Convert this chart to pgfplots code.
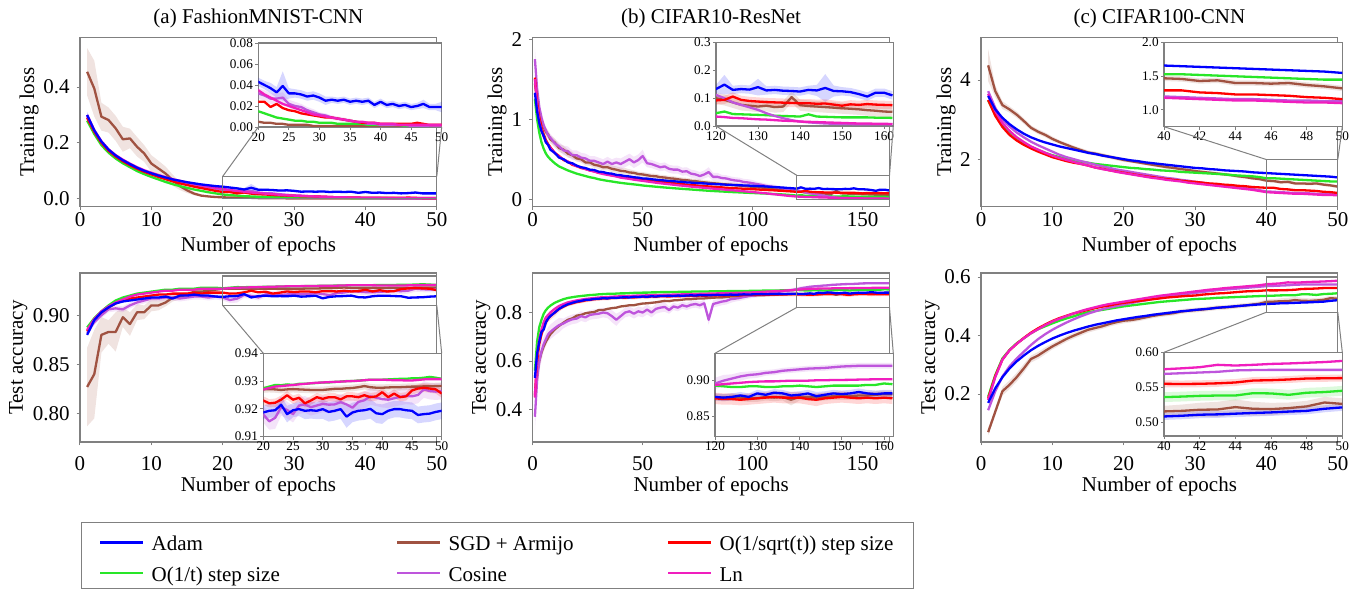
\documentclass[border=0pt]{standalone}
\usepackage{fontspec}
\setmainfont{Liberation Serif}
\usepackage{pgfplots}
\usepackage{pgfplotstable}
\pgfplotsset{compat=1.18}

\definecolor{cA}{RGB}{0,0,255}
\definecolor{cS}{RGB}{160,82,65}
\definecolor{cR}{RGB}{255,0,0}
\definecolor{cG}{RGB}{40,230,40}
\definecolor{cC}{RGB}{190,85,220}
\definecolor{cL}{RGB}{240,30,190}
\definecolor{framegray}{RGB}{128,128,128}

\newcommand\fmain{\fontsize{10.5pt}{12pt}\selectfont}
\newcommand\fins{\fontsize{6.6pt}{8pt}\selectfont}

\pgfplotsset{
  scaled ticks=false,
  every axis title/.style={at={(axis description cs:0.5,1)}, anchor=base, yshift=6.95pt, font=\fmain},
  mainax/.style={scale only axis, width=178.4pt, height=84.5pt, anchor=south west,
    axis line style={draw=framegray, line width=0.6pt},
    tick style={draw=framegray, line width=0.5pt}, tick align=outside, tick pos=left,
    major tick length=1.7pt,
    ticklabel style={font=\fmain}, label style={font=\fmain},
    xlabel style={inner sep=0pt},
    /pgf/number format/assume math mode=true},
  toprow/.style={xticklabel style={inner sep=1pt, yshift=-0.25pt},
    xlabel style={at={(axis description cs:0.5,-0.2367)}, anchor=center}},
  botrow/.style={xticklabel style={inner sep=1pt, yshift=-4.25pt},
    xlabel style={at={(axis description cs:0.5,-0.2633)}, anchor=center}},
  insax/.style={scale only axis, anchor=south west,
    axis line style={draw=framegray, line width=0.6pt},
    tick style={draw=framegray, line width=0.4pt}, tick align=outside, tick pos=left,
    major tick length=1.5pt,
    ticklabel style={font=\fins, inner sep=1pt},
    axis background/.style={fill=white},
    /pgf/number format/assume math mode=true},
  dl/.style={line width=1.15pt, line join=round},
}

% band = mean +- err, drawn as a stacked area, then the stack is brought back to zero
\newcommand\band[4]{%
  \addplot[draw=none, forget plot, stack plots=y] table[x=x, y expr=\thisrow{#2}-\thisrow{#3}]{#1};
  \addplot[draw=none, fill=#4, fill opacity=0.16, forget plot, stack plots=y] table[x=x, y expr=2*\thisrow{#3}]{#1} \closedcycle;
  \addplot[draw=none, forget plot, stack plots=y] table[x=x, y expr=-\thisrow{#2}-\thisrow{#3}]{#1};
}
\newcommand\drawlines[1]{%
  \addplot[cS, dl] table[x=x, y=s]{#1};
  \addplot[cG, dl] table[x=x, y=g]{#1};
  \addplot[cC, dl] table[x=x, y=c]{#1};
  \addplot[cR, dl] table[x=x, y=r]{#1};
  \addplot[cL, dl] table[x=x, y=l]{#1};
  \addplot[cA, dl] table[x=x, y=a]{#1};
}

% (a) FashionMNIST training loss
\pgfplotstableread{
x a s r g c l ae se ce
1 0.300 0.455 0.290 0.280 0.295 0.300 0.012 0.085 0.008
2 0.245 0.395 0.240 0.232 0.242 0.246 0.008 0.100 0.006
3 0.205 0.294 0.200 0.192 0.203 0.206 0.006 0.050 0.005
4 0.176 0.282 0.172 0.165 0.174 0.177 0.005 0.045 0.005
5 0.155 0.252 0.151 0.144 0.153 0.156 0.005 0.045 0.004
6 0.138 0.213 0.134 0.127 0.137 0.140 0.004 0.045 0.004
7 0.124 0.216 0.120 0.113 0.123 0.126 0.004 0.035 0.004
8 0.111 0.186 0.107 0.099 0.110 0.113 0.004 0.035 0.004
9 0.100 0.162 0.096 0.088 0.099 0.102 0.004 0.030 0.004
10 0.091 0.126 0.087 0.078 0.090 0.093 0.004 0.030 0.004
11 0.083 0.108 0.078 0.069 0.082 0.085 0.004 0.028 0.004
12 0.076 0.090 0.070 0.060 0.074 0.077 0.004 0.025 0.004
13 0.069 0.066 0.062 0.052 0.066 0.070 0.004 0.020 0.004
14 0.064 0.045 0.055 0.045 0.060 0.064 0.004 0.014 0.004
15 0.059 0.030 0.049 0.039 0.054 0.058 0.004 0.010 0.004
16 0.055 0.018 0.043 0.033 0.049 0.053 0.004 0.006 0.004
17 0.051 0.011 0.038 0.028 0.044 0.048 0.004 0.004 0.004
18 0.048 0.008 0.033 0.023 0.040 0.043 0.004 0.002 0.004
19 0.045 0.006 0.028 0.019 0.036 0.039 0.004 0.002 0.004
20 0.043 0.005 0.024 0.015 0.032 0.035 0.004 0.001 0.005
21 0.040 0.004 0.024 0.013 0.030 0.031 0.004 0.001 0.005
22 0.037 0.004 0.019 0.011 0.027 0.028 0.005 0.001 0.005
23 0.033 0.003 0.022 0.009 0.027 0.025 0.005 0.001 0.005
24 0.039 0.003 0.018 0.008 0.028 0.022 0.014 0.001 0.005
25 0.032 0.002 0.016 0.007 0.022 0.020 0.005 0.001 0.004
26 0.032 0.002 0.015 0.006 0.020 0.018 0.004 0.001 0.004
27 0.031 0.002 0.013 0.006 0.019 0.016 0.004 0.001 0.003
28 0.029 0.002 0.012 0.005 0.016 0.014 0.004 0.001 0.003
29 0.030 0.001 0.011 0.005 0.014 0.012 0.004 0.001 0.003
30 0.028 0.001 0.010 0.004 0.012 0.011 0.004 0.001 0.002
31 0.025 0.001 0.009 0.004 0.011 0.010 0.004 0.001 0.002
32 0.026 0.001 0.009 0.004 0.009 0.009 0.003 0.001 0.002
33 0.025 0.001 0.008 0.003 0.008 0.008 0.003 0.001 0.002
34 0.026 0.001 0.007 0.003 0.007 0.007 0.003 0.001 0.002
35 0.024 0.001 0.006 0.003 0.006 0.006 0.003 0.001 0.002
36 0.025 0.001 0.005 0.003 0.005 0.005 0.003 0.001 0.001
37 0.024 0.001 0.004 0.003 0.004 0.005 0.003 0.001 0.001
38 0.025 0.001 0.004 0.002 0.003 0.004 0.003 0.001 0.001
39 0.021 0.001 0.004 0.002 0.003 0.004 0.003 0.001 0.001
40 0.024 0.001 0.003 0.002 0.002 0.003 0.003 0.001 0.001
41 0.021 0.001 0.003 0.002 0.002 0.003 0.003 0.001 0.001
42 0.022 0.001 0.003 0.002 0.002 0.003 0.003 0.001 0.001
43 0.020 0.001 0.003 0.002 0.002 0.002 0.003 0.001 0.001
44 0.021 0.001 0.003 0.001 0.002 0.002 0.003 0.001 0.001
45 0.019 0.001 0.003 0.001 0.001 0.002 0.003 0.001 0.001
46 0.020 0.001 0.004 0.001 0.001 0.002 0.003 0.001 0.001
47 0.022 0.001 0.003 0.001 0.001 0.002 0.004 0.001 0.001
48 0.019 0.001 0.002 0.001 0.001 0.002 0.003 0.001 0.001
49 0.019 0.001 0.002 0.001 0.001 0.002 0.003 0.001 0.001
50 0.019 0.001 0.002 0.001 0.001 0.002 0.005 0.001 0.001
}\tAtop

% (a) FashionMNIST test accuracy
\pgfplotstableread{
x a s r g c l ae se re ce
1 0.880 0.827 0.884 0.8875 0.882 0.885 0.003 0.040 0.002 0.003
2 0.895 0.840 0.896 0.897 0.893 0.896 0.003 0.045 0.002 0.003
3 0.903 0.880 0.903 0.904 0.900 0.904 0.003 0.018 0.002 0.003
4 0.908 0.883 0.908 0.910 0.906 0.909 0.003 0.012 0.002 0.003
5 0.912 0.883 0.912 0.915 0.907 0.913 0.003 0.020 0.002 0.003
6 0.914 0.898 0.915 0.918 0.906 0.916 0.003 0.010 0.002 0.003
7 0.915 0.891 0.917 0.920 0.910 0.919 0.003 0.012 0.002 0.003
8 0.916 0.903 0.918 0.922 0.913 0.921 0.003 0.008 0.002 0.003
9 0.917 0.903 0.919 0.923 0.915 0.922 0.003 0.007 0.002 0.003
10 0.918 0.910 0.920 0.924 0.917 0.923 0.003 0.006 0.002 0.003
11 0.918 0.910 0.921 0.925 0.917 0.924 0.003 0.005 0.002 0.003
12 0.919 0.913 0.921 0.926 0.918 0.925 0.003 0.004 0.002 0.003
13 0.917 0.918 0.922 0.926 0.918 0.925 0.003 0.004 0.002 0.003
14 0.920 0.919 0.922 0.927 0.917 0.926 0.003 0.003 0.002 0.003
15 0.920 0.921 0.922 0.927 0.918 0.926 0.003 0.003 0.002 0.003
16 0.921 0.924 0.923 0.927 0.919 0.926 0.003 0.002 0.002 0.003
17 0.920 0.924 0.922 0.928 0.919 0.927 0.003 0.002 0.002 0.003
18 0.920 0.925 0.923 0.928 0.918 0.927 0.003 0.002 0.002 0.003
19 0.919 0.926 0.923 0.928 0.919 0.927 0.003 0.002 0.002 0.003
20 0.9187 0.9270 0.9230 0.9274 0.9180 0.9270 0.0025 0.0012 0.0015 0.003
21 0.9193 0.9271 0.9220 0.9280 0.9155 0.9275 0.0025 0.0012 0.0015 0.003
22 0.9195 0.9270 0.9222 0.9286 0.9168 0.9280 0.0025 0.0012 0.0015 0.004
23 0.9215 0.9268 0.9233 0.9285 0.9206 0.9282 0.0030 0.0012 0.0015 0.003
24 0.9181 0.9270 0.9249 0.9288 0.9196 0.9284 0.0030 0.0012 0.0015 0.003
25 0.9195 0.9271 0.9233 0.9286 0.9181 0.9286 0.0025 0.0012 0.0015 0.003
26 0.9199 0.9270 0.9240 0.9290 0.9212 0.9288 0.0025 0.0012 0.0015 0.003
27 0.9193 0.9269 0.9220 0.9290 0.9216 0.9290 0.0030 0.0012 0.0015 0.003
28 0.9195 0.9268 0.9230 0.9292 0.9206 0.9292 0.0030 0.0012 0.0015 0.003
29 0.9193 0.9268 0.9242 0.9293 0.9212 0.9294 0.0030 0.0012 0.0015 0.003
30 0.9199 0.9268 0.9236 0.9295 0.9218 0.9295 0.0035 0.0012 0.0015 0.003
31 0.9189 0.9270 0.9242 0.9295 0.9215 0.9296 0.0035 0.0012 0.0015 0.003
32 0.9193 0.9272 0.9242 0.9297 0.9216 0.9297 0.0035 0.0012 0.0015 0.003
33 0.9199 0.9272 0.9234 0.9298 0.9224 0.9298 0.0035 0.0012 0.0015 0.003
34 0.9172 0.9274 0.9245 0.9300 0.9216 0.9299 0.0040 0.0012 0.0015 0.003
35 0.9187 0.9275 0.9245 0.9300 0.9204 0.9300 0.0035 0.0012 0.0015 0.003
36 0.9193 0.9278 0.9242 0.9302 0.9225 0.9301 0.0035 0.0012 0.0015 0.003
37 0.9195 0.9282 0.9249 0.9303 0.9231 0.9303 0.0035 0.0012 0.0015 0.003
38 0.9200 0.9278 0.9242 0.9305 0.9245 0.9305 0.0035 0.0012 0.0015 0.003
39 0.9184 0.9276 0.9245 0.9305 0.9240 0.9305 0.0035 0.0012 0.0015 0.003
40 0.9181 0.9276 0.9260 0.9305 0.9235 0.9305 0.0035 0.0012 0.0015 0.003
41 0.9193 0.9277 0.9242 0.9306 0.9233 0.9304 0.0030 0.0012 0.0015 0.003
42 0.9199 0.9278 0.9255 0.9307 0.9238 0.9303 0.0030 0.0012 0.0015 0.003
43 0.9199 0.9278 0.9242 0.9308 0.9243 0.9303 0.0030 0.0012 0.0015 0.003
44 0.9195 0.9279 0.9245 0.9308 0.9247 0.9302 0.0030 0.0012 0.0015 0.003
45 0.9193 0.9280 0.9266 0.9310 0.9245 0.9302 0.0030 0.0012 0.0015 0.003
46 0.9178 0.9280 0.9273 0.9310 0.9250 0.9304 0.0030 0.0012 0.0015 0.003
47 0.9181 0.9281 0.9276 0.9312 0.9270 0.9306 0.0030 0.0012 0.0015 0.003
48 0.9183 0.9281 0.9273 0.9315 0.9264 0.9307 0.0030 0.0012 0.0015 0.003
49 0.9189 0.9282 0.9270 0.9312 0.9262 0.9307 0.0030 0.0012 0.0015 0.003
50 0.9193 0.9282 0.9255 0.9308 0.9264 0.9307 0.0030 0.0012 0.0015 0.003
}\tAbot

% (b) CIFAR10 training loss
\pgfplotstableread{
x a s r g c l ae se ce re
1 1.33 1.45 1.52 1.25 1.75 1.50 0.05 0.06 0.15 0.05
2 1.10 1.23 1.22 1.00 1.38 1.17 0.04 0.06 0.10 0.04
3 0.95 1.08 1.02 0.83 1.15 0.97 0.03 0.05 0.08 0.03
4 0.85 0.98 0.90 0.71 1.02 0.86 0.03 0.05 0.06 0.03
5 0.79 0.91 0.81 0.63 0.92 0.78 0.03 0.05 0.06 0.03
6 0.71 0.84 0.74 0.57 0.86 0.72 0.03 0.05 0.05 0.03
7 0.68 0.81 0.69 0.53 0.80 0.68 0.03 0.05 0.05 0.02
8 0.62 0.75 0.65 0.50 0.77 0.64 0.02 0.05 0.05 0.02
10 0.58 0.71 0.58 0.45 0.70 0.58 0.02 0.05 0.05 0.02
12 0.52 0.64 0.54 0.41 0.66 0.53 0.02 0.05 0.05 0.02
14 0.50 0.62 0.49 0.385 0.61 0.50 0.02 0.05 0.06 0.02
16 0.46 0.57 0.47 0.36 0.60 0.47 0.02 0.05 0.06 0.02
18 0.45 0.55 0.43 0.34 0.55 0.44 0.02 0.04 0.06 0.02
20 0.42 0.51 0.415 0.32 0.55 0.41 0.02 0.04 0.06 0.02
22 0.40 0.50 0.39 0.305 0.52 0.40 0.02 0.04 0.06 0.02
24 0.39 0.46 0.38 0.29 0.51 0.375 0.02 0.04 0.06 0.02
26 0.37 0.46 0.36 0.275 0.48 0.36 0.02 0.04 0.06 0.02
28 0.365 0.43 0.35 0.265 0.48 0.345 0.02 0.04 0.06 0.02
30 0.345 0.42 0.33 0.25 0.46 0.33 0.02 0.04 0.06 0.02
32 0.34 0.40 0.325 0.24 0.44 0.315 0.02 0.04 0.06 0.02
34 0.325 0.40 0.31 0.23 0.47 0.305 0.02 0.04 0.06 0.02
36 0.32 0.38 0.30 0.222 0.44 0.295 0.02 0.04 0.06 0.02
38 0.305 0.37 0.29 0.213 0.46 0.285 0.02 0.04 0.06 0.02
40 0.30 0.355 0.285 0.205 0.44 0.27 0.02 0.04 0.07 0.02
42 0.29 0.35 0.272 0.198 0.47 0.262 0.02 0.04 0.07 0.02
44 0.285 0.335 0.268 0.192 0.50 0.255 0.02 0.04 0.07 0.02
46 0.275 0.33 0.258 0.186 0.46 0.245 0.02 0.03 0.07 0.02
48 0.27 0.315 0.252 0.18 0.49 0.237 0.02 0.03 0.07 0.02
50 0.26 0.31 0.243 0.172 0.54 0.23 0.02 0.03 0.08 0.02
52 0.258 0.30 0.238 0.167 0.45 0.222 0.015 0.03 0.05 0.015
54 0.25 0.29 0.23 0.162 0.44 0.215 0.015 0.03 0.05 0.015
56 0.245 0.288 0.226 0.157 0.42 0.207 0.015 0.03 0.05 0.015
58 0.238 0.275 0.218 0.152 0.40 0.20 0.015 0.03 0.05 0.015
60 0.235 0.272 0.213 0.147 0.41 0.194 0.015 0.03 0.05 0.015
62 0.228 0.262 0.206 0.143 0.38 0.188 0.015 0.03 0.05 0.015
64 0.226 0.258 0.20 0.138 0.37 0.182 0.015 0.03 0.05 0.015
66 0.22 0.25 0.196 0.134 0.37 0.175 0.015 0.03 0.05 0.015
68 0.217 0.242 0.188 0.13 0.345 0.17 0.015 0.03 0.05 0.015
70 0.21 0.238 0.184 0.126 0.35 0.164 0.015 0.03 0.05 0.015
72 0.208 0.23 0.177 0.122 0.32 0.158 0.015 0.03 0.05 0.015
74 0.203 0.227 0.174 0.118 0.31 0.153 0.015 0.03 0.05 0.015
76 0.20 0.218 0.168 0.114 0.29 0.148 0.015 0.03 0.05 0.015
78 0.198 0.212 0.166 0.11 0.31 0.143 0.015 0.03 0.05 0.015
80 0.194 0.206 0.16 0.106 0.34 0.138 0.015 0.03 0.06 0.015
82 0.192 0.20 0.157 0.103 0.28 0.133 0.015 0.03 0.05 0.015
84 0.187 0.197 0.151 0.10 0.28 0.128 0.015 0.03 0.05 0.015
86 0.186 0.19 0.149 0.097 0.265 0.124 0.015 0.03 0.04 0.015
88 0.182 0.186 0.143 0.094 0.26 0.119 0.015 0.03 0.04 0.015
90 0.181 0.18 0.141 0.091 0.245 0.114 0.015 0.03 0.04 0.015
92 0.177 0.176 0.137 0.088 0.235 0.11 0.015 0.03 0.04 0.015
94 0.176 0.17 0.135 0.086 0.23 0.105 0.015 0.03 0.04 0.015
96 0.172 0.166 0.131 0.083 0.215 0.10 0.015 0.03 0.04 0.015
98 0.171 0.16 0.129 0.081 0.21 0.095 0.015 0.03 0.04 0.015
100 0.168 0.156 0.125 0.078 0.20 0.09 0.015 0.03 0.04 0.015
102 0.165 0.15 0.123 0.076 0.19 0.085 0.015 0.025 0.03 0.015
104 0.163 0.146 0.119 0.073 0.18 0.08 0.015 0.025 0.03 0.015
106 0.16 0.14 0.117 0.071 0.168 0.075 0.015 0.025 0.03 0.015
108 0.156 0.136 0.113 0.068 0.16 0.068 0.015 0.025 0.03 0.015
110 0.153 0.13 0.111 0.066 0.152 0.062 0.015 0.025 0.03 0.015
112 0.149 0.126 0.107 0.063 0.145 0.056 0.015 0.025 0.025 0.015
114 0.146 0.118 0.105 0.06 0.135 0.05 0.015 0.025 0.025 0.015
116 0.141 0.113 0.10 0.056 0.128 0.044 0.015 0.025 0.02 0.015
118 0.138 0.106 0.098 0.052 0.12 0.039 0.015 0.025 0.02 0.015
120 0.133 0.10 0.092 0.046 0.112 0.034 0.015 0.02 0.015 0.015
122 0.149 0.094 0.094 0.052 0.10 0.032 0.035 0.02 0.012 0.015
124 0.13 0.085 0.106 0.043 0.085 0.029 0.015 0.02 0.01 0.015
126 0.133 0.076 0.094 0.042 0.076 0.028 0.015 0.02 0.008 0.015
128 0.131 0.073 0.09 0.041 0.067 0.026 0.015 0.02 0.008 0.015
130 0.14 0.07 0.088 0.04 0.058 0.024 0.03 0.02 0.006 0.015
132 0.128 0.073 0.086 0.039 0.046 0.023 0.015 0.02 0.005 0.015
134 0.13 0.068 0.085 0.037 0.036 0.021 0.015 0.02 0.004 0.015
136 0.127 0.07 0.084 0.036 0.028 0.019 0.015 0.02 0.003 0.015
138 0.126 0.104 0.083 0.035 0.021 0.018 0.015 0.02 0.003 0.015
140 0.124 0.075 0.082 0.034 0.016 0.016 0.015 0.02 0.003 0.015
142 0.13 0.072 0.082 0.042 0.013 0.015 0.015 0.02 0.002 0.015
144 0.128 0.07 0.08 0.034 0.011 0.014 0.02 0.02 0.002 0.015
146 0.137 0.068 0.081 0.033 0.009 0.013 0.05 0.02 0.002 0.015
148 0.126 0.066 0.077 0.032 0.008 0.012 0.02 0.02 0.002 0.015
150 0.125 0.064 0.073 0.031 0.007 0.011 0.015 0.02 0.002 0.015
152 0.122 0.062 0.078 0.031 0.007 0.01 0.015 0.02 0.002 0.015
154 0.115 0.06 0.076 0.031 0.006 0.009 0.015 0.02 0.002 0.015
156 0.106 0.057 0.079 0.031 0.006 0.009 0.015 0.02 0.002 0.015
158 0.12 0.055 0.077 0.03 0.006 0.008 0.015 0.02 0.002 0.015
160 0.12 0.052 0.076 0.03 0.006 0.008 0.015 0.02 0.002 0.015
162 0.11 0.051 0.075 0.029 0.006 0.007 0.015 0.02 0.002 0.015
}\tBtop

% (b) CIFAR10 test accuracy
\pgfplotstableread{
x a s r g c l ae se re ce
1 0.53 0.45 0.46 0.56 0.37 0.45 0.02 0.03 0.03 0.06
2 0.63 0.55 0.60 0.68 0.52 0.62 0.02 0.03 0.03 0.05
3 0.68 0.60 0.67 0.74 0.60 0.69 0.02 0.03 0.02 0.04
4 0.72 0.635 0.71 0.77 0.64 0.73 0.015 0.03 0.02 0.04
5 0.73 0.66 0.74 0.795 0.67 0.76 0.015 0.025 0.02 0.03
6 0.76 0.68 0.76 0.81 0.69 0.78 0.01 0.02 0.02 0.03
7 0.775 0.695 0.775 0.82 0.71 0.79 0.01 0.02 0.015 0.03
8 0.785 0.71 0.785 0.828 0.72 0.80 0.01 0.02 0.015 0.03
10 0.80 0.73 0.80 0.84 0.735 0.815 0.01 0.02 0.015 0.03
12 0.815 0.745 0.815 0.848 0.748 0.827 0.008 0.015 0.012 0.03
14 0.826 0.758 0.824 0.855 0.755 0.835 0.006 0.008 0.008 0.02
16 0.834 0.77 0.833 0.86 0.765 0.842 0.006 0.008 0.008 0.02
18 0.84 0.776 0.838 0.863 0.772 0.846 0.006 0.008 0.008 0.02
20 0.845 0.787 0.843 0.866 0.775 0.85 0.006 0.008 0.008 0.02
22 0.848 0.79 0.846 0.868 0.785 0.853 0.006 0.008 0.008 0.02
24 0.852 0.797 0.85 0.87 0.78 0.856 0.006 0.008 0.008 0.02
26 0.853 0.80 0.852 0.872 0.79 0.858 0.006 0.008 0.008 0.02
28 0.856 0.802 0.855 0.873 0.793 0.86 0.006 0.008 0.008 0.02
30 0.857 0.81 0.856 0.875 0.795 0.862 0.006 0.008 0.008 0.02
32 0.859 0.81 0.858 0.876 0.80 0.863 0.006 0.008 0.008 0.02
34 0.858 0.815 0.858 0.877 0.797 0.864 0.006 0.008 0.008 0.02
36 0.861 0.818 0.86 0.877 0.785 0.865 0.006 0.008 0.008 0.025
38 0.86 0.82 0.861 0.878 0.77 0.866 0.006 0.008 0.008 0.025
40 0.862 0.825 0.862 0.879 0.785 0.867 0.006 0.008 0.008 0.02
42 0.863 0.827 0.861 0.879 0.80 0.867 0.006 0.008 0.008 0.02
44 0.862 0.83 0.863 0.88 0.805 0.868 0.006 0.008 0.008 0.02
46 0.865 0.83 0.862 0.881 0.795 0.869 0.006 0.008 0.008 0.02
48 0.864 0.834 0.864 0.881 0.805 0.87 0.006 0.008 0.008 0.02
50 0.866 0.837 0.865 0.882 0.80 0.87 0.006 0.008 0.008 0.02
52 0.865 0.838 0.864 0.882 0.812 0.871 0.006 0.008 0.008 0.02
54 0.867 0.84 0.866 0.883 0.80 0.871 0.006 0.008 0.008 0.02
56 0.866 0.842 0.865 0.883 0.815 0.872 0.006 0.008 0.008 0.02
58 0.868 0.845 0.867 0.884 0.82 0.872 0.006 0.008 0.008 0.02
60 0.868 0.848 0.867 0.884 0.823 0.873 0.006 0.008 0.008 0.02
62 0.869 0.847 0.866 0.884 0.81 0.873 0.005 0.006 0.008 0.015
64 0.868 0.85 0.868 0.885 0.825 0.874 0.005 0.006 0.008 0.015
66 0.87 0.851 0.867 0.885 0.82 0.874 0.005 0.006 0.008 0.015
68 0.869 0.853 0.868 0.886 0.83 0.875 0.005 0.006 0.008 0.015
70 0.87 0.855 0.868 0.886 0.825 0.875 0.005 0.006 0.008 0.015
72 0.871 0.855 0.869 0.886 0.832 0.876 0.005 0.006 0.008 0.015
74 0.87 0.857 0.868 0.887 0.835 0.876 0.005 0.006 0.008 0.015
76 0.872 0.858 0.87 0.887 0.83 0.877 0.005 0.006 0.008 0.015
78 0.871 0.858 0.869 0.887 0.838 0.877 0.005 0.006 0.008 0.015
80 0.871 0.86 0.87 0.887 0.77 0.878 0.005 0.006 0.008 0.02
82 0.872 0.861 0.87 0.888 0.835 0.878 0.005 0.006 0.008 0.015
84 0.873 0.862 0.871 0.888 0.84 0.879 0.005 0.006 0.008 0.015
86 0.872 0.862 0.87 0.888 0.845 0.879 0.005 0.006 0.008 0.015
88 0.873 0.864 0.871 0.888 0.848 0.88 0.005 0.006 0.008 0.015
90 0.874 0.866 0.871 0.889 0.855 0.88 0.005 0.006 0.008 0.015
92 0.873 0.866 0.872 0.889 0.857 0.881 0.005 0.006 0.008 0.012
94 0.874 0.867 0.871 0.889 0.86 0.881 0.005 0.006 0.008 0.012
96 0.875 0.868 0.872 0.889 0.864 0.882 0.005 0.006 0.008 0.012
98 0.874 0.869 0.872 0.889 0.867 0.882 0.005 0.006 0.008 0.01
100 0.875 0.87 0.873 0.89 0.87 0.883 0.005 0.006 0.008 0.01
102 0.875 0.871 0.873 0.89 0.872 0.884 0.005 0.006 0.008 0.01
104 0.876 0.871 0.874 0.89 0.875 0.885 0.005 0.006 0.008 0.01
106 0.875 0.872 0.873 0.891 0.877 0.886 0.005 0.006 0.008 0.01
108 0.876 0.873 0.874 0.891 0.88 0.887 0.005 0.006 0.008 0.01
110 0.876 0.873 0.874 0.891 0.882 0.888 0.005 0.006 0.008 0.01
112 0.877 0.874 0.875 0.891 0.885 0.889 0.005 0.006 0.008 0.008
114 0.876 0.875 0.874 0.892 0.888 0.89 0.005 0.006 0.008 0.008
116 0.877 0.875 0.875 0.892 0.89 0.891 0.005 0.006 0.008 0.008
118 0.877 0.876 0.875 0.892 0.893 0.892 0.005 0.006 0.008 0.008
120 0.877 0.877 0.875 0.893 0.896 0.894 0.005 0.005 0.008 0.008
122 0.876 0.876 0.874 0.892 0.90 0.895 0.005 0.005 0.008 0.008
124 0.877 0.877 0.874 0.891 0.903 0.896 0.005 0.005 0.008 0.006
126 0.879 0.876 0.873 0.891 0.906 0.897 0.005 0.005 0.008 0.006
128 0.877 0.875 0.874 0.892 0.908 0.898 0.005 0.005 0.008 0.005
130 0.882 0.875 0.875 0.892 0.909 0.8986 0.005 0.005 0.008 0.005
132 0.88 0.877 0.876 0.891 0.911 0.899 0.005 0.005 0.008 0.004
134 0.883 0.876 0.877 0.891 0.912 0.899 0.005 0.005 0.008 0.004
136 0.882 0.877 0.876 0.892 0.914 0.8995 0.005 0.005 0.008 0.004
138 0.879 0.873 0.876 0.892 0.915 0.90 0.005 0.008 0.008 0.004
140 0.88 0.877 0.876 0.893 0.916 0.90 0.005 0.005 0.008 0.004
142 0.882 0.877 0.874 0.892 0.917 0.90 0.005 0.005 0.008 0.004
144 0.878 0.876 0.873 0.891 0.9175 0.9005 0.006 0.005 0.009 0.004
146 0.88 0.877 0.875 0.892 0.918 0.9005 0.005 0.005 0.008 0.004
148 0.882 0.878 0.876 0.893 0.919 0.901 0.005 0.005 0.008 0.004
150 0.881 0.878 0.877 0.893 0.92 0.901 0.005 0.005 0.008 0.004
152 0.882 0.878 0.876 0.893 0.9205 0.9012 0.005 0.005 0.008 0.004
154 0.884 0.879 0.875 0.893 0.921 0.9015 0.005 0.005 0.008 0.004
156 0.882 0.879 0.876 0.894 0.921 0.9017 0.005 0.005 0.008 0.004
158 0.881 0.88 0.875 0.894 0.921 0.902 0.005 0.005 0.008 0.004
160 0.882 0.881 0.876 0.896 0.921 0.902 0.005 0.005 0.008 0.004
162 0.882 0.881 0.875 0.895 0.921 0.902 0.005 0.005 0.008 0.004
}\tBbot

% (c) CIFAR100 training loss
\pgfplotstableread{
x a s r g c l se
1 3.60 4.37 3.50 3.49 3.72 3.65 0.40
2 3.26 3.72 3.10 3.13 3.30 3.22 0.15
3 3.05 3.37 2.82 2.88 3.00 2.92 0.10
4 2.89 3.26 2.62 2.70 2.83 2.72 0.08
5 2.76 3.13 2.48 2.55 2.68 2.56 0.08
6 2.65 2.97 2.37 2.42 2.56 2.44 0.07
7 2.56 2.80 2.28 2.32 2.45 2.33 0.06
8 2.49 2.70 2.20 2.24 2.36 2.25 0.06
9 2.43 2.62 2.13 2.17 2.28 2.17 0.06
10 2.38 2.52 2.06 2.11 2.20 2.10 0.06
11 2.33 2.44 2.01 2.06 2.12 2.04 0.05
12 2.29 2.37 1.96 2.02 2.06 1.99 0.05
13 2.25 2.30 1.92 1.98 2.01 1.94 0.05
14 2.21 2.24 1.89 1.95 1.96 1.89 0.05
15 2.17 2.18 1.85 1.92 1.92 1.85 0.05
16 2.14 2.15 1.80 1.89 1.87 1.80 0.05
17 2.10 2.11 1.77 1.87 1.83 1.76 0.05
18 2.07 2.07 1.73 1.85 1.79 1.73 0.05
19 2.04 2.03 1.70 1.83 1.75 1.69 0.05
20 2.01 1.99 1.67 1.81 1.72 1.66 0.05
21 1.98 1.96 1.64 1.79 1.69 1.63 0.04
22 1.96 1.93 1.61 1.78 1.66 1.60 0.04
23 1.93 1.90 1.58 1.76 1.63 1.57 0.04
24 1.91 1.87 1.56 1.75 1.60 1.54 0.04
25 1.89 1.84 1.53 1.73 1.57 1.52 0.04
26 1.87 1.81 1.51 1.72 1.54 1.49 0.04
27 1.85 1.79 1.49 1.71 1.52 1.47 0.04
28 1.83 1.76 1.47 1.69 1.49 1.45 0.04
29 1.81 1.74 1.45 1.68 1.47 1.42 0.04
30 1.79 1.71 1.44 1.67 1.44 1.40 0.04
31 1.78 1.69 1.42 1.66 1.42 1.38 0.04
32 1.76 1.67 1.40 1.65 1.39 1.36 0.04
33 1.75 1.65 1.39 1.64 1.37 1.34 0.04
34 1.73 1.63 1.37 1.63 1.35 1.32 0.04
35 1.72 1.61 1.36 1.61 1.33 1.30 0.04
36 1.71 1.58 1.34 1.60 1.30 1.28 0.04
37 1.70 1.56 1.33 1.59 1.28 1.26 0.04
38 1.68 1.53 1.31 1.58 1.26 1.24 0.04
39 1.67 1.51 1.30 1.56 1.23 1.21 0.04
40 1.66 1.47 1.29 1.53 1.20 1.18 0.04
41 1.65 1.46 1.29 1.53 1.19 1.17 0.04
42 1.64 1.43 1.26 1.52 1.18 1.16 0.04
43 1.63 1.44 1.25 1.51 1.17 1.15 0.04
44 1.62 1.40 1.23 1.50 1.16 1.14 0.04
45 1.61 1.40 1.23 1.49 1.16 1.14 0.04
46 1.60 1.39 1.22 1.48 1.15 1.13 0.04
47 1.59 1.40 1.21 1.47 1.14 1.12 0.04
48 1.58 1.37 1.19 1.46 1.14 1.11 0.04
49 1.57 1.35 1.18 1.45 1.13 1.11 0.04
50 1.55 1.32 1.16 1.45 1.13 1.10 0.04
}\tCtop

% (c) CIFAR100 test accuracy
\pgfplotstableread{
x a s r g c l ae se re ge
1 0.170 0.070 0.185 0.191 0.145 0.180 0.006 0.010 0.006 0.006
2 0.220 0.140 0.262 0.265 0.210 0.258 0.006 0.012 0.006 0.006
3 0.258 0.210 0.318 0.322 0.260 0.318 0.006 0.015 0.006 0.006
4 0.288 0.232 0.350 0.351 0.295 0.350 0.005 0.015 0.006 0.006
5 0.312 0.258 0.372 0.374 0.322 0.372 0.005 0.015 0.006 0.006
6 0.332 0.288 0.392 0.391 0.345 0.391 0.005 0.015 0.006 0.006
7 0.350 0.320 0.410 0.408 0.368 0.408 0.005 0.012 0.005 0.006
8 0.365 0.332 0.425 0.422 0.388 0.422 0.005 0.012 0.005 0.006
9 0.378 0.348 0.438 0.432 0.405 0.436 0.005 0.012 0.005 0.006
10 0.390 0.363 0.450 0.442 0.420 0.448 0.005 0.010 0.005 0.006
11 0.400 0.376 0.460 0.451 0.433 0.458 0.005 0.010 0.005 0.006
12 0.409 0.389 0.468 0.459 0.445 0.467 0.005 0.010 0.005 0.006
13 0.417 0.400 0.476 0.466 0.456 0.476 0.005 0.010 0.005 0.006
14 0.424 0.410 0.482 0.474 0.466 0.484 0.005 0.010 0.005 0.006
15 0.431 0.420 0.488 0.480 0.475 0.491 0.005 0.010 0.005 0.006
16 0.437 0.426 0.494 0.484 0.483 0.497 0.005 0.009 0.005 0.006
17 0.442 0.432 0.499 0.488 0.490 0.503 0.005 0.009 0.005 0.006
18 0.447 0.440 0.503 0.492 0.496 0.508 0.005 0.009 0.005 0.006
19 0.452 0.446 0.508 0.496 0.501 0.512 0.005 0.009 0.005 0.006
20 0.456 0.451 0.512 0.500 0.506 0.516 0.005 0.009 0.005 0.006
21 0.460 0.453 0.515 0.503 0.511 0.520 0.005 0.008 0.005 0.007
22 0.464 0.457 0.518 0.506 0.516 0.524 0.005 0.008 0.005 0.007
23 0.467 0.462 0.521 0.509 0.520 0.528 0.005 0.008 0.005 0.007
24 0.471 0.467 0.524 0.512 0.525 0.532 0.005 0.008 0.005 0.007
25 0.474 0.471 0.527 0.515 0.529 0.536 0.005 0.008 0.005 0.007
26 0.477 0.474 0.530 0.517 0.533 0.539 0.005 0.008 0.005 0.007
27 0.480 0.477 0.532 0.519 0.537 0.542 0.005 0.008 0.005 0.007
28 0.483 0.482 0.534 0.521 0.540 0.545 0.005 0.008 0.005 0.007
29 0.485 0.485 0.536 0.523 0.543 0.548 0.005 0.008 0.005 0.007
30 0.488 0.487 0.537 0.525 0.546 0.551 0.005 0.008 0.005 0.007
31 0.490 0.489 0.540 0.526 0.549 0.554 0.005 0.008 0.005 0.007
32 0.492 0.492 0.542 0.527 0.552 0.557 0.005 0.008 0.005 0.007
33 0.495 0.495 0.544 0.529 0.555 0.559 0.005 0.008 0.005 0.007
34 0.497 0.496 0.545 0.530 0.557 0.562 0.005 0.008 0.005 0.007
35 0.499 0.498 0.547 0.531 0.559 0.564 0.005 0.008 0.005 0.007
36 0.501 0.501 0.549 0.532 0.561 0.566 0.005 0.008 0.005 0.007
37 0.503 0.503 0.551 0.533 0.563 0.568 0.005 0.008 0.005 0.007
38 0.505 0.506 0.552 0.534 0.565 0.570 0.005 0.008 0.005 0.007
39 0.5065 0.509 0.553 0.535 0.567 0.572 0.005 0.008 0.005 0.007
40 0.508 0.5152 0.5548 0.5357 0.569 0.5757 0.005 0.008 0.005 0.007
41 0.509 0.516 0.5545 0.5365 0.570 0.577 0.005 0.009 0.005 0.007
42 0.5105 0.5176 0.5548 0.5375 0.571 0.5786 0.005 0.010 0.005 0.007
43 0.511 0.518 0.5555 0.538 0.572 0.582 0.005 0.011 0.005 0.007
44 0.512 0.5214 0.5567 0.538 0.574 0.581 0.005 0.011 0.005 0.007
45 0.513 0.519 0.5595 0.5414 0.5745 0.582 0.005 0.010 0.005 0.007
46 0.5138 0.5185 0.560 0.541 0.5748 0.5833 0.005 0.009 0.005 0.007
47 0.515 0.520 0.561 0.539 0.5748 0.584 0.005 0.008 0.005 0.007
48 0.516 0.5224 0.5624 0.542 0.5748 0.585 0.005 0.008 0.005 0.007
49 0.519 0.528 0.5627 0.543 0.5748 0.586 0.005 0.008 0.005 0.007
50 0.521 0.526 0.563 0.5448 0.5748 0.5876 0.005 0.008 0.005 0.007
}\tCbot

\begin{document}
\begin{tikzpicture}
\path[use as bounding box] (0,0) rectangle (680pt,296pt);

%================ (a) top
\begin{axis}[mainax, toprow, at={(40pt,192.75pt)},
  xmin=0, xmax=50, ymin=-0.028, ymax=0.578,
  xtick={0,10,20,30,40,50}, ytick={0,0.2,0.4},
  yticklabel style={/pgf/number format/.cd, fixed, fixed zerofill, precision=1},
  title={(a) FashionMNIST-CNN}, xlabel={Number of epochs}, ylabel={Training loss},
  ylabel style={at={(axis description cs:-0.1429,0.5)}, anchor=center}]
\band{\tAtop}{s}{se}{cS}
\band{\tAtop}{a}{ae}{cA}
\drawlines{\tAtop}
\draw[framegray, line width=0.6pt] (axis cs:20,0) rectangle (axis cs:50,0.08);
\coordinate (A1p) at (axis cs:20,0.08);
\coordinate (A1q) at (axis cs:50,0.08);
\end{axis}
\begin{axis}[insax, name=a1, at={(129.15pt,232.5pt)}, width=91.7pt, height=42pt,
  xmin=20, xmax=50, ymin=0, ymax=0.08,
  xtick={20,25,30,35,40,45,50}, ytick={0,0.02,0.04,0.06,0.08},
  yticklabel style={/pgf/number format/.cd, fixed, fixed zerofill, precision=2}]
\band{\tAtop}{a}{ae}{cA}
\band{\tAtop}{c}{ce}{cC}
\drawlines{\tAtop}
\end{axis}
\draw[framegray, line width=0.5pt] (A1p) -- (a1.south west) (A1q) -- (a1.south east);

%================ (b) top
\begin{axis}[mainax, toprow, at={(266.35pt,192.75pt)},
  xmin=0, xmax=162.2, ymin=-0.09, ymax=2.02,
  xtick={0,50,100,150}, ytick={0,1,2},
  title={(b) CIFAR10-ResNet}, xlabel={Number of epochs}, ylabel={Training loss},
  ylabel style={at={(axis description cs:-0.100,0.5)}, anchor=center}]
\band{\tBtop}{c}{ce}{cC}
\band{\tBtop}{s}{se}{cS}
\drawlines{\tBtop}
\draw[framegray, line width=0.6pt] (axis cs:120,0) rectangle (axis cs:162.2,0.3);
\coordinate (B1p) at (axis cs:120,0.3);
\coordinate (B1q) at (axis cs:162.2,0.3);
\end{axis}
\begin{axis}[insax, name=b1, at={(358pt,233pt)}, width=88.65pt, height=41.65pt,
  xmin=120, xmax=162.2, ymin=0, ymax=0.3,
  xtick={120,130,140,150,160}, ytick={0,0.1,0.2,0.3},
  yticklabel style={/pgf/number format/.cd, fixed, fixed zerofill, precision=1}]
\band{\tBtop}{a}{ae}{cA}
\band{\tBtop}{s}{se}{cS}
\band{\tBtop}{r}{re}{cR}
\drawlines{\tBtop}
\end{axis}
\draw[framegray, line width=0.5pt] (B1p) -- (b1.south west) (B1q) -- (b1.south east);

%================ (c) top
\begin{axis}[mainax, toprow, at={(490.5pt,192.75pt)},
  xmin=0, xmax=50, ymin=0.82, ymax=5.07,
  xtick={0,10,20,30,40,50}, ytick={2,4},
  title={(c) CIFAR100-CNN}, xlabel={Number of epochs}, ylabel={Training loss},
  ylabel style={at={(axis description cs:-0.098,0.5)}, anchor=center}]
\band{\tCtop}{s}{se}{cS}
\drawlines{\tCtop}
\draw[framegray, line width=0.6pt] (axis cs:40,0.75) rectangle (axis cs:50,2.0);
\coordinate (C1p) at (axis cs:40,2.0);
\coordinate (C1q) at (axis cs:50,2.0);
\end{axis}
\begin{axis}[insax, name=c1, at={(582pt,232.65pt)}, width=89.15pt, height=42pt,
  xmin=40, xmax=50, ymin=0.75, ymax=2.0,
  xtick={40,42,44,46,48,50}, ytick={1,1.5,2},
  yticklabel style={/pgf/number format/.cd, fixed, fixed zerofill, precision=1}]
\band{\tCtop}{s}{se}{cS}
\drawlines{\tCtop}
\end{axis}
\draw[framegray, line width=0.5pt] (C1p) -- (c1.south west) (C1q) -- (c1.south east);

%================ (a) bottom
\begin{axis}[mainax, botrow, at={(40pt,75pt)},
  xmin=0, xmax=50, ymin=0.771, ymax=0.943,
  xtick={0,10,20,30,40,50}, ytick={0.80,0.85,0.90},
  yticklabel style={/pgf/number format/.cd, fixed, fixed zerofill, precision=2},
  xlabel={Number of epochs}, ylabel={Test accuracy},
  ylabel style={at={(axis description cs:-0.1728,0.5)}, anchor=center}]
\band{\tAbot}{s}{se}{cS}
\band{\tAbot}{c}{ce}{cC}
\drawlines{\tAbot}
\draw[framegray, line width=0.6pt] (axis cs:20,0.91) rectangle (axis cs:50,0.94);
\coordinate (A2p) at (axis cs:20,0.91);
\coordinate (A2q) at (axis cs:50,0.91);
\end{axis}
\begin{axis}[insax, name=a2, at={(131.65pt,77.65pt)}, width=89.2pt, height=41.7pt,
  xmin=20, xmax=50, ymin=0.91, ymax=0.94,
  xtick={20,25,30,35,40,45,50}, ytick={0.91,0.92,0.93,0.94},
  yticklabel style={/pgf/number format/.cd, fixed, fixed zerofill, precision=2}]
\band{\tAbot}{a}{ae}{cA}
\band{\tAbot}{c}{ce}{cC}
\band{\tAbot}{r}{re}{cR}
\band{\tAbot}{s}{se}{cS}
\drawlines{\tAbot}
\end{axis}
\draw[framegray, line width=0.5pt] (A2p) -- (a2.north west) (A2q) -- (a2.north east);

%================ (b) bottom
\begin{axis}[mainax, botrow, at={(266.35pt,75pt)},
  xmin=0, xmax=162.2, ymin=0.266, ymax=0.963,
  xtick={0,50,100,150}, ytick={0.4,0.6,0.8},
  xlabel={Number of epochs}, ylabel={Test accuracy},
  ylabel style={at={(axis description cs:-0.144,0.5)}, anchor=center}]
\band{\tBbot}{c}{ce}{cC}
\band{\tBbot}{r}{re}{cR}
\drawlines{\tBbot}
\draw[framegray, line width=0.6pt] (axis cs:120,0.8208) rectangle (axis cs:162.2,0.9387);
\coordinate (B2p) at (axis cs:120,0.8208);
\coordinate (B2q) at (axis cs:162.2,0.8208);
\end{axis}
\begin{axis}[insax, name=b2, at={(357.5pt,77.65pt)}, width=89.15pt, height=41.7pt,
  xmin=120, xmax=162.2, ymin=0.8208, ymax=0.9387,
  xtick={120,130,140,150,160}, ytick={0.85,0.90},
  yticklabel style={/pgf/number format/.cd, fixed, fixed zerofill, precision=2}]
\band{\tBbot}{r}{re}{cR}
\band{\tBbot}{a}{ae}{cA}
\band{\tBbot}{c}{ce}{cC}
\band{\tBbot}{s}{se}{cS}
\drawlines{\tBbot}
\end{axis}
\draw[framegray, line width=0.5pt] (B2p) -- (b2.north west) (B2q) -- (b2.north east);

%================ (c) bottom
\begin{axis}[mainax, botrow, at={(490.5pt,75pt)},
  xmin=0, xmax=50, ymin=0.0365, ymax=0.614,
  xtick={0,10,20,30,40,50}, ytick={0.2,0.4,0.6},
  xlabel={Number of epochs}, ylabel={Test accuracy},
  ylabel style={at={(axis description cs:-0.1415,0.5)}, anchor=center}]
\band{\tCbot}{s}{se}{cS}
\drawlines{\tCbot}
\draw[framegray, line width=0.6pt] (axis cs:40,0.48) rectangle (axis cs:50,0.60);
\coordinate (C2p) at (axis cs:40,0.48);
\coordinate (C2q) at (axis cs:50,0.48);
\end{axis}
\begin{axis}[insax, name=c2, at={(582pt,78pt)}, width=89.15pt, height=41.85pt,
  xmin=40, xmax=50, ymin=0.48, ymax=0.60,
  xtick={40,42,44,46,48,50}, ytick={0.50,0.55,0.60},
  yticklabel style={/pgf/number format/.cd, fixed, fixed zerofill, precision=2}]
\band{\tCbot}{a}{ae}{cA}
\band{\tCbot}{s}{se}{cS}
\band{\tCbot}{r}{re}{cR}
\band{\tCbot}{g}{ge}{cG}
\drawlines{\tCbot}
\end{axis}
\draw[framegray, line width=0.5pt] (C2p) -- (c2.north west) (C2q) -- (c2.north east);

%================ legend
\begin{axis}[at={(40.35pt,33.85pt)}, anchor=south west, scale only axis,
  width=1pt, height=1pt, hide axis, xmin=0, xmax=1, ymin=0, ymax=1,
  legend columns=3,
  legend image code/.code={\draw[#1] (0pt,4.1pt) -- (21.7pt,4.1pt);},
  legend style={at={(axis description cs:0,1)}, anchor=north west,
    draw=framegray, line width=0.6pt, font=\fmain,
    inner xsep=8.8pt, inner ysep=2pt, row sep=6.4pt,
    nodes={inner sep=0pt},
    cells={anchor=base west},
    /tikz/every odd column/.style={column sep=3.5pt},
    /tikz/every even column/.style={column sep=0pt}}]
\addplot[draw=none, forget plot] coordinates {(0.5,0.5)};
\addlegendimage{cA, line width=1.15pt}
\addlegendentry{\makebox[122.15pt][l]{\rule[-2.4pt]{0pt}{14.25pt}Adam}}
\addlegendimage{cS, line width=1.15pt}
\addlegendentry{\makebox[109.15pt][l]{\rule[-2.4pt]{0pt}{14.25pt}SGD + Armijo}}
\addlegendimage{cR, line width=1.15pt}
\addlegendentry{\makebox[88.2pt][l]{\rule[-2.4pt]{0pt}{14.25pt}O(1/sqrt(t)) step size}}
\addlegendimage{cG, line width=1.15pt}
\addlegendentry{\makebox[122.15pt][l]{\rule[-2.4pt]{0pt}{9.8pt}O(1/t) step size}}
\addlegendimage{cC, line width=1.15pt}
\addlegendentry{\makebox[109.15pt][l]{\rule[-2.4pt]{0pt}{9.8pt}Cosine}}
\addlegendimage{cL, line width=1.15pt}
\addlegendentry{\makebox[88.2pt][l]{\rule[-2.4pt]{0pt}{9.8pt}Ln}}
\end{axis}
\end{tikzpicture}
\end{document}
